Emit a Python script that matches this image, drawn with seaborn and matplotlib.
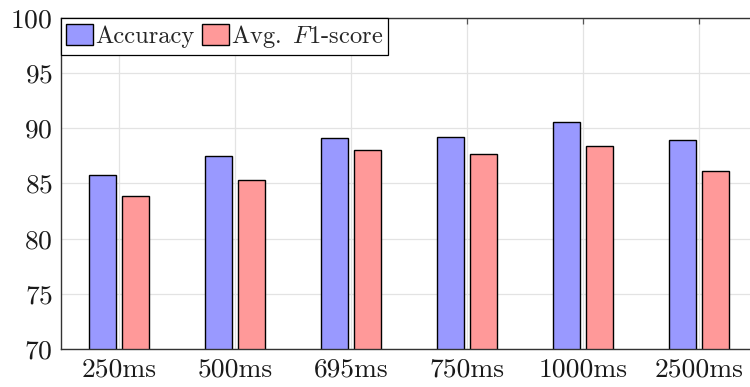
import pandas as pd
import matplotlib
matplotlib.use("Agg")
import matplotlib.pyplot as plt
import seaborn as sns

# valores
windows = ["250ms", "500ms", "695ms", "750ms", "1000ms", "2500ms"]
accuracy = [85.8, 87.45, 89.07, 89.16, 90.55, 88.9]
avg_f1 = [83.87, 85.32, 88.07, 87.71, 88.37, 86.1]
series_names = ["Accuracy", r"Avg. $\,F$1-score"]
colors = ["#9999ff", "#ff9999"]

df = pd.DataFrame({
    "window": windows * 2,
    "value": accuracy + avg_f1,
    "metric": [series_names[0]] * len(windows) + [series_names[1]] * len(windows),
})

sns.set_style("white")
plt.rcParams["font.family"] = "serif"
plt.rcParams["font.serif"] = ["cmr10", "DejaVu Serif"]
plt.rcParams["mathtext.fontset"] = "cm"
plt.rcParams["axes.formatter.use_mathtext"] = True

fig = plt.figure(figsize=(7.5, 3.87), dpi=100)
ax = fig.add_axes([0.0813, 0.0974, 0.928, 0.857])

sns.barplot(data=df, x="window", y="value", hue="metric", palette=colors,
            saturation=1, width=0.57, gap=0.2, edgecolor="black",
            linewidth=1.0, ax=ax, legend=True)

ax.set_ylim(70, 100)
ax.set_xlim(-0.5, 5.5)
ax.set_yticks(range(70, 101, 5))
ax.set_xlabel("")
ax.set_ylabel("")

ax.grid(True, color="#e3e3e3", linewidth=0.9)
ax.set_axisbelow(True)

for s in ax.spines.values():
    s.set_color("#333333")
    s.set_linewidth(1.0)

ax.tick_params(axis="both", direction="in", length=4.5, width=0.9,
               color="#555555", labelsize=19.8, top=True, right=True,
               labelcolor="#1a1a1a", pad=6)

handles, labels = ax.get_legend_handles_labels()
ax.get_legend().remove()
leg = ax.legend(handles, labels, loc="upper left", ncol=2, frameon=True,
                fancybox=False, framealpha=1, edgecolor="black",
                fontsize=17.6, borderaxespad=0, borderpad=0.22,
                handlelength=1.1, handleheight=0.95, handletextpad=0.08,
                columnspacing=0.3)
leg.get_frame().set_linewidth(0.9)

fig.savefig("out.png", dpi=100)
